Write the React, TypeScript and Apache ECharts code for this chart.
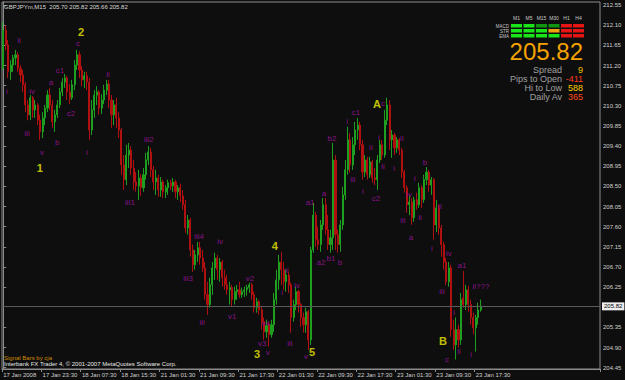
import React, { useEffect, useRef } from "react";
import * as echarts from "echarts";

const FONT = "'Liberation Sans', Arial, sans-serif";

// 30-minute bars: [open, close, low, high]
const ohlc: number[][] = [
  [211.14, 211.99, 211.10, 212.17],
  [211.99, 211.66, 211.55, 212.10],
  [211.66, 211.06, 210.92, 211.77],
  [211.06, 211.21, 210.88, 211.32],
  [211.21, 211.37, 211.06, 211.44],
  [211.37, 211.44, 211.21, 211.55],
  [211.44, 211.14, 211.06, 211.50],
  [211.14, 210.99, 210.83, 211.21],
  [210.99, 210.77, 210.61, 211.10],
  [210.77, 210.32, 210.16, 210.83],
  [210.32, 210.10, 209.98, 210.43],
  [210.10, 210.48, 209.98, 210.54],
  [210.48, 210.21, 210.03, 210.52],
  [210.21, 210.32, 210.03, 210.43],
  [210.32, 209.98, 209.87, 210.36],
  [209.98, 209.72, 209.54, 210.10],
  [209.72, 210.03, 209.58, 210.16],
  [210.03, 210.25, 209.87, 210.32],
  [210.25, 210.54, 210.16, 210.65],
  [210.54, 210.32, 210.21, 210.70],
  [210.32, 209.94, 209.81, 210.43],
  [209.94, 210.10, 209.72, 210.21],
  [210.10, 210.32, 210.03, 210.43],
  [210.32, 210.61, 210.25, 210.70],
  [210.61, 210.83, 210.52, 210.92],
  [210.83, 210.92, 210.70, 211.01],
  [210.92, 210.61, 210.43, 210.97],
  [210.61, 210.48, 210.34, 210.79],
  [210.48, 210.77, 210.43, 210.88],
  [210.77, 211.21, 210.65, 211.32],
  [211.21, 211.44, 211.10, 211.55],
  [211.44, 211.10, 210.92, 211.52],
  [211.10, 210.88, 210.74, 211.19],
  [210.88, 210.97, 210.70, 211.06],
  [210.97, 210.83, 210.65, 211.06],
  [210.83, 209.76, 209.54, 210.92],
  [209.76, 210.21, 209.65, 210.43],
  [210.21, 210.54, 210.03, 210.65],
  [210.54, 210.61, 210.32, 210.74],
  [210.61, 210.25, 210.10, 210.65],
  [210.25, 210.43, 210.12, 210.56],
  [210.43, 210.65, 210.34, 210.77],
  [210.65, 210.79, 210.54, 210.88],
  [210.79, 210.43, 210.25, 210.88],
  [210.43, 210.10, 209.81, 210.54],
  [210.10, 210.32, 209.87, 210.43],
  [210.32, 210.03, 209.81, 210.48],
  [210.03, 209.76, 209.58, 210.16],
  [209.76, 208.98, 208.76, 209.81],
  [208.98, 208.65, 208.42, 209.20],
  [208.65, 209.20, 208.53, 209.43],
  [209.20, 209.31, 208.91, 209.47],
  [209.31, 208.91, 208.76, 209.40],
  [208.91, 208.60, 208.42, 209.09],
  [208.60, 208.51, 208.38, 208.82],
  [208.51, 208.69, 208.20, 208.87],
  [208.69, 208.47, 208.29, 208.78],
  [208.47, 208.76, 208.38, 208.91],
  [208.76, 209.09, 208.65, 209.25],
  [209.09, 209.27, 208.98, 209.40],
  [209.27, 208.87, 208.71, 209.36],
  [208.87, 208.60, 208.42, 208.96],
  [208.60, 208.69, 208.31, 208.87],
  [208.69, 208.42, 208.27, 208.76],
  [208.42, 208.60, 208.27, 208.71],
  [208.60, 208.38, 208.24, 208.65],
  [208.38, 208.47, 208.24, 208.53],
  [208.47, 208.58, 208.31, 208.65],
  [208.58, 208.51, 208.42, 208.65],
  [208.51, 208.60, 208.38, 208.69],
  [208.60, 208.38, 208.24, 208.65],
  [208.38, 208.47, 208.20, 208.53],
  [208.47, 208.29, 208.15, 208.56],
  [208.29, 208.09, 207.98, 208.42],
  [208.09, 207.57, 207.46, 208.20],
  [207.57, 207.75, 207.42, 207.86],
  [207.75, 207.08, 206.93, 207.80],
  [207.08, 206.75, 206.59, 207.20],
  [206.75, 206.97, 206.64, 207.08],
  [206.97, 207.13, 206.81, 207.26],
  [207.13, 206.90, 206.75, 207.26],
  [206.90, 206.68, 206.59, 207.08],
  [206.68, 206.08, 205.97, 206.81],
  [206.08, 205.86, 205.63, 206.37],
  [205.86, 206.30, 205.79, 206.46],
  [206.30, 206.68, 206.08, 206.81],
  [206.68, 206.90, 206.41, 207.02],
  [206.90, 206.64, 206.41, 206.97],
  [206.64, 206.81, 206.37, 206.90],
  [206.81, 206.46, 206.26, 206.86],
  [206.46, 206.30, 206.19, 206.64],
  [206.30, 206.19, 206.08, 206.52],
  [206.19, 206.24, 205.86, 206.37],
  [206.24, 205.97, 205.81, 206.30],
  [205.97, 206.15, 205.86, 206.26],
  [206.15, 206.19, 205.97, 206.30],
  [206.19, 206.08, 206.01, 206.37],
  [206.08, 206.15, 206.01, 206.24],
  [206.15, 206.19, 206.03, 206.26],
  [206.19, 206.24, 206.06, 206.30],
  [206.24, 206.30, 206.12, 206.35],
  [206.30, 206.08, 205.97, 206.35],
  [206.08, 205.79, 205.68, 206.15],
  [205.79, 205.92, 205.68, 206.01],
  [205.92, 205.74, 205.63, 205.97],
  [205.74, 205.48, 205.30, 205.81],
  [205.48, 205.25, 205.07, 205.57],
  [205.25, 205.39, 205.12, 205.52],
  [205.39, 205.19, 204.92, 205.45],
  [205.19, 205.41, 205.12, 205.52],
  [205.41, 205.97, 205.25, 206.12],
  [205.97, 206.41, 205.86, 206.64],
  [206.41, 206.81, 206.19, 206.97],
  [206.81, 206.64, 206.30, 207.04],
  [206.64, 206.37, 206.19, 206.81],
  [206.37, 206.52, 206.15, 206.64],
  [206.52, 206.30, 206.12, 206.59],
  [206.30, 205.57, 205.23, 206.35],
  [205.57, 205.86, 205.48, 205.97],
  [205.86, 206.15, 205.74, 206.26],
  [206.15, 205.86, 205.68, 206.19],
  [205.86, 205.57, 205.36, 205.90],
  [205.57, 205.41, 205.23, 205.68],
  [205.41, 205.70, 205.23, 205.79],
  [205.70, 205.07, 204.85, 205.74],
  [205.07, 207.08, 204.96, 207.15],
  [207.08, 207.86, 207.02, 208.13],
  [207.86, 207.31, 207.15, 207.93],
  [207.31, 207.20, 207.08, 207.60],
  [207.20, 207.64, 207.04, 207.75],
  [207.64, 208.09, 207.53, 208.24],
  [208.09, 207.53, 207.42, 208.24],
  [207.53, 207.20, 207.08, 207.86],
  [207.20, 207.35, 207.02, 207.53],
  [207.35, 209.09, 207.08, 209.47],
  [209.09, 207.42, 207.08, 209.20],
  [207.42, 207.20, 207.02, 207.53],
  [207.20, 207.64, 207.04, 207.75],
  [207.64, 208.31, 207.53, 208.49],
  [208.31, 208.87, 208.20, 209.09],
  [208.87, 209.54, 208.76, 209.83],
  [209.54, 208.98, 208.80, 209.69],
  [208.98, 209.43, 208.87, 209.60],
  [209.43, 209.76, 209.20, 209.94],
  [209.76, 209.87, 209.54, 210.03],
  [209.87, 209.43, 209.31, 209.94],
  [209.43, 208.82, 208.65, 209.54],
  [208.82, 209.09, 208.71, 209.20],
  [209.09, 208.76, 208.65, 209.16],
  [208.76, 209.05, 208.69, 209.16],
  [209.05, 208.69, 208.58, 209.09],
  [208.69, 208.65, 208.53, 208.91],
  [208.65, 209.09, 208.42, 209.20],
  [209.09, 209.43, 209.02, 209.54],
  [209.43, 209.20, 209.09, 209.54],
  [209.20, 209.98, 209.14, 210.21],
  [209.98, 210.32, 209.87, 210.48],
  [210.32, 209.54, 209.31, 210.43],
  [209.54, 209.65, 209.14, 209.76],
  [209.65, 209.36, 209.20, 209.69],
  [209.36, 209.54, 209.25, 209.60],
  [209.54, 209.31, 209.20, 209.58],
  [209.31, 208.82, 208.69, 209.36],
  [208.82, 208.47, 208.36, 208.87],
  [208.47, 208.09, 207.91, 208.53],
  [208.09, 208.15, 207.86, 208.31],
  [208.15, 207.80, 207.64, 208.24],
  [207.80, 208.20, 207.71, 208.27],
  [208.20, 208.09, 207.98, 208.36],
  [208.09, 208.47, 208.02, 208.58],
  [208.47, 208.20, 208.02, 208.53],
  [208.20, 208.65, 208.13, 208.76],
  [208.65, 208.82, 208.53, 208.93],
  [208.82, 208.53, 208.38, 208.87],
  [208.53, 208.65, 208.31, 208.71],
  [208.65, 207.64, 207.31, 208.69],
  [207.64, 208.02, 207.48, 208.20],
  [208.02, 207.57, 207.42, 208.09],
  [207.57, 207.20, 206.93, 207.64],
  [207.20, 206.81, 206.64, 207.26],
  [206.81, 206.37, 206.30, 206.90],
  [206.37, 206.68, 206.26, 206.81],
  [206.68, 205.30, 205.14, 206.75],
  [205.30, 204.96, 204.85, 205.52],
  [204.96, 205.30, 204.63, 205.57],
  [205.30, 205.07, 204.90, 205.41],
  [205.07, 205.97, 204.96, 206.12],
  [206.01, 205.86, 205.79, 206.61],
  [205.86, 206.19, 205.74, 206.30],
  [206.19, 205.86, 205.70, 206.28],
  [205.86, 205.57, 205.41, 205.97],
  [205.57, 205.34, 205.19, 205.68],
  [205.34, 205.57, 204.81, 205.63],
  [205.57, 205.74, 205.41, 205.90],
  [205.74, 205.82, 205.70, 205.97],
];

const CATEGORY_COUNT = 243;
const categories = Array.from({ length: CATEGORY_COUNT }, (_, i) => String(i));
const TICK_STEP = 16;
const xTickLabels = [
  "17 Jan 2008", "17 Jan 23:30", "18 Jan 07:30", "18 Jan 15:30", "21 Jan 01:30",
  "21 Jan 09:30", "21 Jan 17:30", "22 Jan 01:30", "22 Jan 09:30", "22 Jan 17:30",
  "23 Jan 01:30", "23 Jan 09:30", "23 Jan 17:30",
];
const yTickLabels = [
  204.45, 204.9, 205.35, 206.25, 206.7, 207.15, 207.6, 208.05, 208.5, 208.95,
  209.4, 209.85, 210.3, 210.75, 211.2, 211.65, 212.1, 212.55,
];
const lastPrice = 205.82;

// wave labels: [bar position, price, text]
const minorWaves: [number, number, string][] = [
  [1.5, 210.61, "i"], [6.4, 211.75, "ii"], [11.7, 210.63, "iv"], [9.7, 209.69, "iii"],
  [15.8, 209.25, "v"], [19.4, 210.83, "a"], [21.9, 209.47, "b"], [23.1, 211.1, "c1"],
  [27.5, 210.12, "c2"], [30.4, 211.7, "c"], [34.0, 209.25, "i"], [42.6, 210.99, "ii"],
  [59.2, 209.54, "iii2"], [51.5, 208.13, "iii1"], [79.6, 207.37, "iii4"], [75.1, 206.44, "iii3"],
  [80.8, 205.45, "iii"], [88.1, 207.26, "iv"], [93.0, 205.59, "v1"], [100.3, 206.44, "v2"],
  [106.8, 205.43, "v4"], [105.2, 204.99, "v3"], [107.6, 204.79, "v"], [115.3, 206.61, "ii"],
  [113.3, 206.12, "i"], [119.4, 206.28, "iv"], [116.5, 204.99, "iii"], [123.0, 204.7, "v"],
  [124.7, 208.15, "a1"], [129.1, 206.79, "a2"], [130.3, 208.34, "a"], [133.2, 206.9, "b1"],
  [133.6, 209.56, "b2"], [136.8, 206.81, "b"], [139.7, 209.96, "i"], [142.1, 208.65, "iii"],
  [143.3, 210.14, "c1"], [146.2, 208.38, "i"], [149.4, 209.36, "ii"], [151.5, 208.22, "c2"],
  [152.7, 209.6, "i"], [154.3, 208.94, "ii"], [154.3, 210.36, "c"], [162.0, 209.58, "ii"],
  [158.8, 208.89, "i"], [164.9, 208.33, "iv"], [162.4, 207.73, "iii"], [165.7, 207.35, "a"],
  [169.4, 207.8, "ii"], [167.3, 208.67, "i"], [171.4, 209.04, "b"], [177.5, 208.06, "ii"],
  [174.2, 207.11, "i"], [181.1, 206.99, "iv"], [178.3, 206.15, "iii"], [186.4, 206.73, "a1"],
  [180.3, 204.63, "c"], [183.2, 205.68, "i"], [185.2, 204.81, "ii"], [190.1, 204.74, "i"],
  [194.1, 206.26, "ii???"],
];
const majorWaves: [number, number, string][] = [
  [14.9, 208.91, "1"], [31.6, 211.95, "2"], [103.1, 204.76, "3"], [110.4, 207.17, "4"],
  [125.5, 204.79, "5"], [151.9, 210.34, "A"], [178.7, 205.05, "B"],
];

const tfNames = ["M1", "M5", "M15", "M30", "H1", "H4"];
const rowNames = ["MACD", "STR", "EMA"];
const LIME = "#19e619";
const DKG = "#119611";
const RED = "#e61414";
const ORG = "#f0a010";
const signalColors = [
  [LIME, LIME, DKG, DKG, RED, RED],
  [LIME, LIME, LIME, ORG, RED, RED],
  [LIME, LIME, LIME, LIME, RED, RED],
];
const infoRows: [string, string, string][] = [
  ["Spread", "9", "#f0c000"],
  ["Pips to Open", "-411", "#ff3a1a"],
  ["Hi to Low", "588", "#ffcc00"],
  ["Daily Av", "365", "#ff4a1a"],
];

export default function App() {
  const ref = useRef<HTMLDivElement>(null);
  useEffect(() => {
    const chart = echarts.init(ref.current!, null, { renderer: "svg" });

    const graphics: any[] = [];
    graphics.push({
      type: "text", x: 4, y: 7, z: 100,
      style: { text: "GBPJPYm,M15  205.70 205.82 205.66 205.82", fill: "#d8d8d8", fontSize: 6, fontFamily: FONT, verticalAlign: "middle" },
    });
    const colX = [511, 523.5, 536, 548.5, 561, 573];
    const rowY = [24, 29, 34];
    tfNames.forEach((n, i) => {
      graphics.push({
        type: "text", x: colX[i] + 5.5, y: 18, z: 100,
        style: { text: n, fill: "#c8c8c8", fontSize: 5, fontFamily: FONT, align: "center", verticalAlign: "middle" },
      });
    });
    rowNames.forEach((n, r) => {
      graphics.push({
        type: "text", x: 509, y: rowY[r] + 2, z: 100,
        style: { text: n, fill: "#c8c8c8", fontSize: 4.5, fontFamily: FONT, align: "right", verticalAlign: "middle" },
      });
      signalColors[r].forEach((c, i) => {
        graphics.push({ type: "rect", z: 100, shape: { x: colX[i], y: rowY[r], width: 11, height: 3.5 }, style: { fill: c } });
      });
    });
    graphics.push({
      type: "text", x: 583, y: 51.5, z: 100,
      style: { text: "205.82", fill: "#f5a300", fontSize: 24, fontFamily: FONT, align: "right", verticalAlign: "middle" },
    });
    infoRows.forEach((row, k) => {
      const y = 69.5 + k * 9;
      graphics.push({
        type: "text", x: 562, y, z: 100,
        style: { text: row[0], fill: "#a0a0a0", fontSize: 9, fontFamily: FONT, align: "right", verticalAlign: "middle" },
      });
      graphics.push({
        type: "text", x: 583, y, z: 100,
        style: { text: row[1], fill: row[2], fontSize: 9, fontFamily: FONT, align: "right", verticalAlign: "middle" },
      });
    });
    graphics.push({
      type: "text", x: 4, y: 357.5, z: 100,
      style: { text: "Signal Bars by cja", fill: "#d08a00", fontSize: 6, fontFamily: FONT, verticalAlign: "middle" },
    });
    graphics.push({
      type: "text", x: 4, y: 364, z: 100,
      style: { text: "Interbank FX Trader 4, \u00a9 2001-2007 MetaQuotes Software Corp.", fill: "#e8e8e8", fontSize: 6, fontFamily: FONT, verticalAlign: "middle" },
    });

    const option: any = {
      animation: false,
      backgroundColor: "#0e0e0e",
      grid: { left: 2, right: 25, top: 2, bottom: 11, show: true, borderColor: "#8c8c8c", borderWidth: 1, backgroundColor: "transparent" },
      xAxis: [
        {
          type: "category",
          data: categories,
          boundaryGap: true,
          axisLine: { show: true, lineStyle: { color: "#8c8c8c" } },
          axisTick: {
            show: true, length: 3, lineStyle: { color: "#8c8c8c" },
            interval: (i: number) => i % TICK_STEP === 0 && i / TICK_STEP < xTickLabels.length,
          },
          axisLabel: {
            show: true, color: "#d0d0d0", fontSize: 6, fontFamily: FONT, margin: 3, align: "left",
            interval: (i: number) => i % TICK_STEP === 0 && i / TICK_STEP < xTickLabels.length,
            formatter: (_v: string, i: number) => xTickLabels[i / TICK_STEP] ?? "",
          },
          splitLine: { show: false },
        },
        { type: "value", min: -0.5, max: CATEGORY_COUNT - 0.5, show: false },
      ],
      yAxis: {
        type: "value",
        position: "right",
        min: 204.42,
        max: 212.62,
        scale: true,
        axisLine: { show: true, lineStyle: { color: "#8c8c8c" } },
        axisTick: { show: true, length: 3, lineStyle: { color: "#8c8c8c" }, customValues: yTickLabels },
        axisLabel: {
          show: true, color: "#d0d0d0", fontSize: 6, fontFamily: FONT, margin: 3,
          customValues: yTickLabels, formatter: (v: number) => v.toFixed(2),
        },
        splitLine: { show: false },
      },
      graphic: graphics,
      series: [
        {
          type: "candlestick",
          data: ohlc,
          barWidth: 1.6,
          itemStyle: { color: "#1f9f1f", color0: "#b01010", borderColor: "#1f9f1f", borderColor0: "#b01010", borderWidth: 1 },
          markLine: {
            silent: true,
            symbol: ["none", "none"],
            lineStyle: { color: "#5a5a5a", type: "solid", width: 1 },
            label: {
              show: true, position: "end", distance: 2, formatter: lastPrice.toFixed(2),
              backgroundColor: "#ececec", color: "#000", fontSize: 6, fontFamily: FONT, padding: [1, 2],
            },
            data: [{ yAxis: lastPrice }],
          },
        },
        {
          type: "scatter",
          xAxisIndex: 1,
          yAxisIndex: 0,
          symbolSize: 0,
          silent: true,
          z: 10,
          data: minorWaves.map((w) => [w[0], w[1], w[2]]),
          label: { show: true, position: "inside", formatter: (p: any) => p.data[2], color: "#aa12aa", fontSize: 8, fontFamily: FONT },
        },
        {
          type: "scatter",
          xAxisIndex: 1,
          yAxisIndex: 0,
          symbolSize: 0,
          silent: true,
          z: 10,
          data: majorWaves.map((w) => [w[0], w[1], w[2]]),
          label: { show: true, position: "inside", formatter: (p: any) => p.data[2], color: "#f0f000", fontSize: 11, fontWeight: "bold", fontFamily: FONT },
        },
      ],
    };
    chart.setOption(option);
    return () => chart.dispose();
  }, []);
  return <div ref={ref} style={{ position: "fixed", left: 0, top: 0, width: 625, height: 380 }} />;
}
